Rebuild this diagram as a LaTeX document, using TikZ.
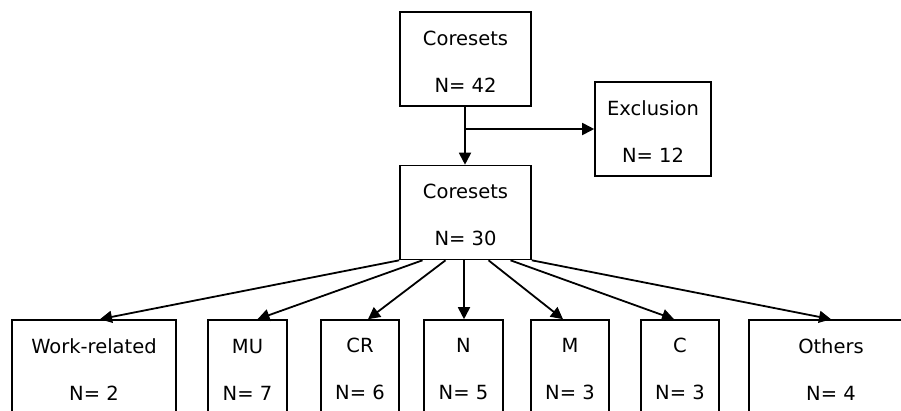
\documentclass[tikz,border=0pt]{standalone}
\usepackage{fontspec}
\setmainfont{DejaVu Sans}
\usetikzlibrary{positioning,arrows.meta}

% two lines of a box: name, then count
\newcommand{\boxtext}[2]{\rule{0pt}{19pt}#1\\[24pt]N= #2}

\begin{document}
\begin{tikzpicture}[
  x=1pt, y=-1pt,
  every node/.style={
    rectangle,
    draw=black,
    line width=1.6pt,
    fill=white,
    minimum height=94pt,
    align=center,
    font=\fontsize{19.5}{23}\selectfont
  },
  arrow/.style={-{Triangle[length=12pt,width=12pt]}, line width=1.8pt}
]
\clip (0,0) rectangle (901,410);

% Top of the flow
\node[minimum width=131pt] (cs42) at (465.5, 59) {\boxtext{Coresets}{42}};
\node[minimum width=116pt] (excl) at (653, 129) {\boxtext{Exclusion}{12}};
\node[minimum width=131pt] (cs30) at (465.5, 212.5) {\boxtext{Coresets}{30}};

% Groups
\node[minimum width=164pt] (wr) at (94, 367) {\boxtext{Work-related}{2}};
\node[minimum width=79pt] (mu) at (247.5, 367) {\boxtext{MU}{7}};
\node[minimum width=78pt] (cr) at (360, 367) {\boxtext{CR}{6}};
\node[minimum width=79pt] (n) at (463.5, 367) {\boxtext{N}{5}};
\node[minimum width=78pt] (m) at (570, 367) {\boxtext{M}{3}};
\node[minimum width=78pt] (c) at (680, 367) {\boxtext{C}{3}};
\node[minimum width=164pt] (oth) at (831, 367) {\boxtext{Others}{4}};

\coordinate (split) at ([xshift=-0.5pt]cs42.south |- excl.west);

\draw[arrow] ([xshift=-0.5pt]cs42.south) -- ([xshift=-0.5pt]cs30.north);
\draw[arrow] (split) -- (excl.west);

% Arrows to the groups
\draw[arrow] (cs30.south west) -- ([xshift=6pt]wr.north);
\draw[arrow] ([xshift=-43pt]cs30.south) -- ([xshift=10pt]mu.north);
\draw[arrow] ([xshift=-20pt]cs30.south) -- ([xshift=8pt]cr.north);
\draw[arrow] ([xshift=-1.5pt]cs30.south) -- ([xshift=0.5pt]n.north);
\draw[arrow] ([xshift=23pt]cs30.south) -- ([xshift=-7pt]m.north);
\draw[arrow] ([xshift=45pt]cs30.south) -- ([xshift=-6pt]c.north);
\draw[arrow] (cs30.south east) -- (oth.north);

\end{tikzpicture}
\end{document}
